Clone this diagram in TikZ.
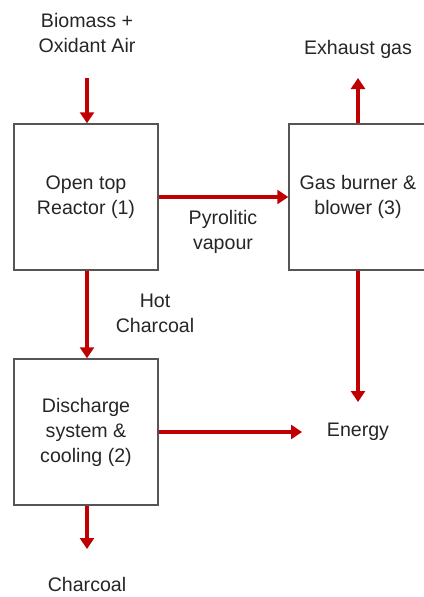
\documentclass[tikz,border=0pt]{standalone}
\usepackage{fontspec}
\setmainfont{Liberation Sans}
\usetikzlibrary{arrows.meta}

\definecolor{flowred}{RGB}{192,0,0}
\definecolor{boxgray}{RGB}{85,85,85}

\begin{document}
\begin{tikzpicture}[x=1pt,y=-1pt,
    font=\fontsize{19.6}{25}\selectfont,
    unit/.style={draw=boxgray,line width=1.5pt,minimum width=144pt,minimum height=146pt,
      inner sep=0pt,align=center,text=black!85},
    txt/.style={align=center,inner sep=0pt,text=black!85},
    flow/.style={draw=flowred,line width=3.5pt,-{Triangle[length=11pt,width=14pt]}}]
    \useasboundingbox (0,0) rectangle (423,597);
    % process units
    \node[unit] (reactor) at (86,197) {Open top\\Reactor (1)};
    \node[unit] (discharge) at (86,432) {Discharge\\system \&\\cooling (2)};
    \node[unit,minimum width=138pt] (burner) at (358,197) {Gas burner \&\\blower (3)};
    % streams
    \node[txt] (feed) at (87,33) {Biomass +\\Oxidant Air};
    \node[txt] (exhaust) at (358,49) {Exhaust gas};
    \node[txt] (energy) at (358,432) {Energy};
    \node[txt] (charcoal) at (87,584) {Charcoal};
    \node[txt] (hot) at (155,313) {Hot\\Charcoal};
    \node[txt] (vapour) at (223,232) {Pyrolitic\\vapour};
    \coordinate (feedend) at (87,78);
    \coordinate (exhend) at (358,78);
    \coordinate (energyin) at (302,432);
    \coordinate (charend) at (87,549);
    \draw[flow] (feedend) -- (feedend |- reactor.north);
    \draw[flow] (reactor.south -| feedend) -- (discharge.north -| feedend);
    \draw[flow] (reactor.east) -- (burner.west);
    \draw[flow] (burner.north) -- (exhend);
    \draw[flow] (burner.south) -- (energy.north |- 0,402);
    \draw[flow] (discharge.east) -- (energyin);
    \draw[flow] (discharge.south -| charend) -- (charend);
\end{tikzpicture}
\end{document}
